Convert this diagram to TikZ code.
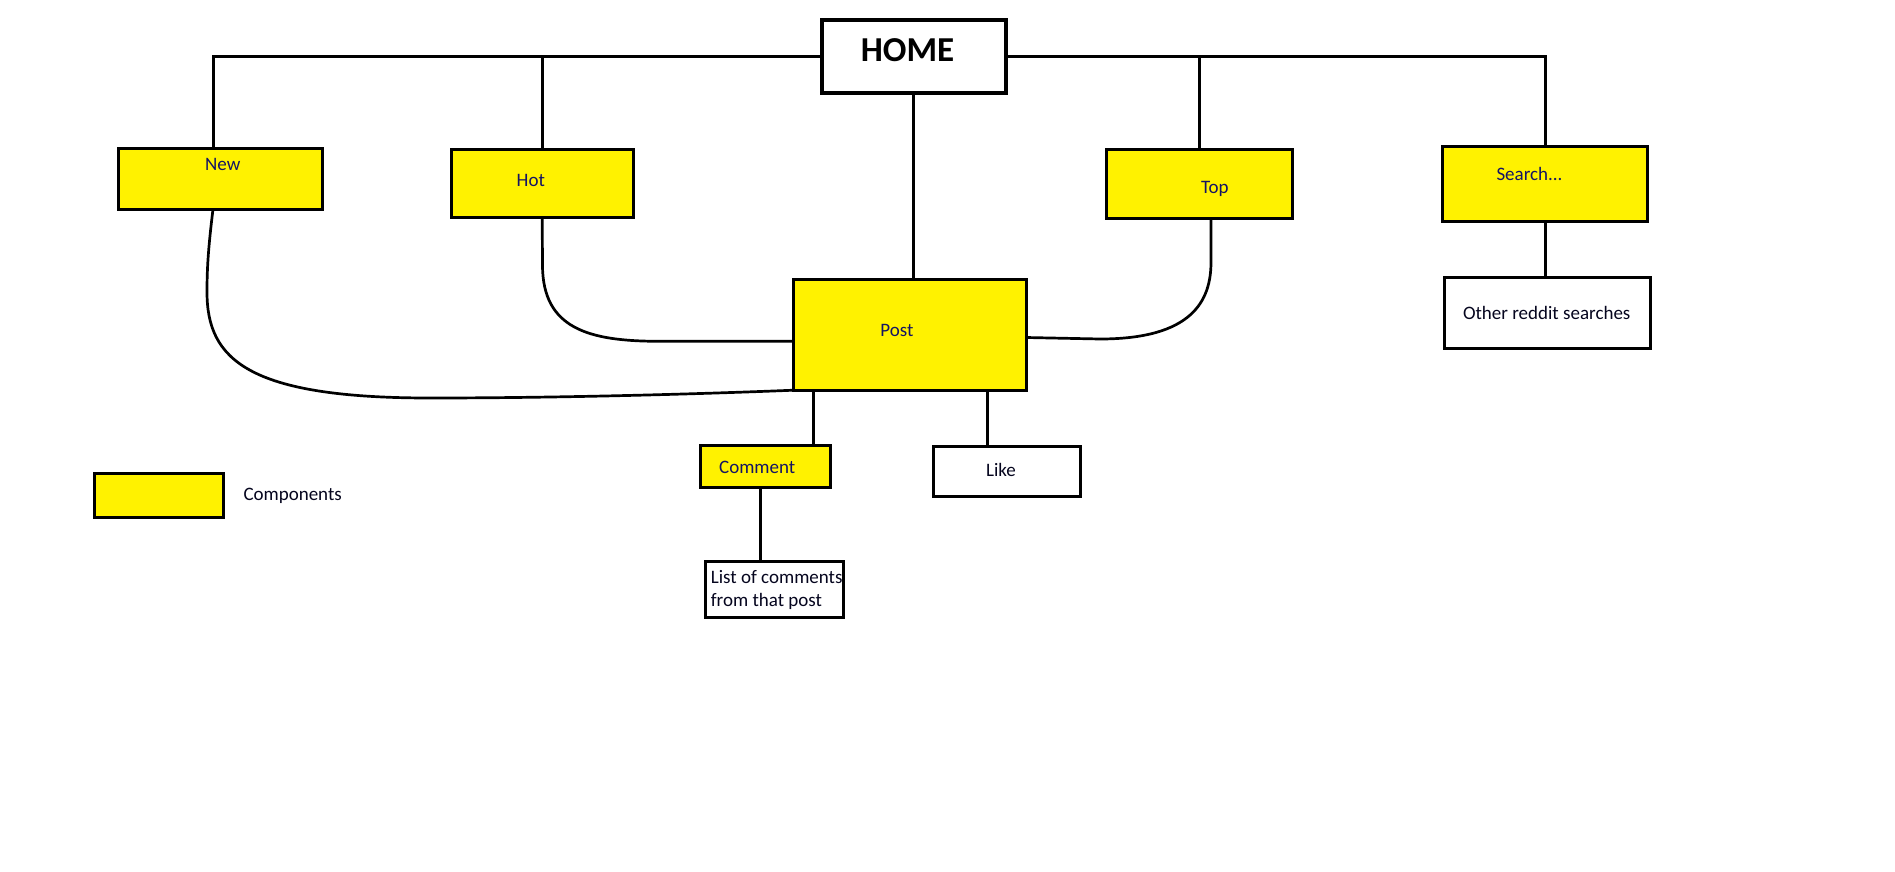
\documentclass[tikz,border=0pt]{standalone}
\usepackage{fontspec}
\setmainfont{Carlito}
\definecolor{boxyellow}{RGB}{255,242,0}
\definecolor{labelnavy}{RGB}{20,20,100}
\definecolor{labeldark}{RGB}{5,5,30}
\begin{document}
\begin{tikzpicture}[x=1pt,y=-1pt,
  box/.style={draw=black,line width=3pt,inner sep=0pt,outer sep=0pt},
  comp/.style={box,fill=boxyellow},
  plain/.style={box,fill=white},
  lbl/.style={inner sep=0pt,anchor=base,font=\fontsize{19}{22.7}\selectfont},
  comptext/.style={lbl,text=labelnavy},
  plaintext/.style={lbl,text=labeldark},
  link/.style={draw=black,line width=2.7pt}]
\useasboundingbox (0,0) rectangle (1895,872);
\fill[white] (0,0) rectangle (1895,872);

% root page
\node[box,line width=4.5pt,fill=white,minimum width=184pt,minimum height=72.8pt] (home) at (913.75,56.65) {};
\node[inner sep=0pt,anchor=base,font=\fontsize{35}{40}\selectfont\bfseries,text=black] (hometxt) at (907.5,61.7) {HOME};

% listing components
\node[comp,minimum width=204pt,minimum height=61pt] (new) at (220.5,178.7) {};
\node[comptext] (newtxt) at (222.7,171) {New};
\node[comp,minimum width=182.2pt,minimum height=67.7pt] (hot) at (542.2,183.35) {};
\node[comptext] (hottxt) at (530.8,186.7) {Hot};
\node[comp,minimum width=186.5pt,minimum height=69pt] (top) at (1199.6,184.3) {};
\node[comptext] (toptxt) at (1214.9,193.3) {Top};
\node[comp,minimum width=205.3pt,minimum height=75.3pt] (search) at (1545.2,184.2) {};
\node[comptext] (searchtxt) at (1529.5,180) {Search...};
\node[plain,minimum width=206pt,minimum height=71pt] (other) at (1547.8,313) {};
\node[plaintext] (othertxt) at (1546.7,319) {Other reddit searches};

% post and its parts
\node[comp,minimum width=232.5pt,minimum height=110.4pt] (post) at (909.75,335) {};
\node[comptext] (posttxt) at (897,336) {Post};
\node[comp,minimum width=130.3pt,minimum height=42pt] (comment) at (765.7,466.8) {};
\node[comptext] (commenttxt) at (757.2,473.3) {Comment};
\node[plain,minimum width=147.3pt,minimum height=50.3pt] (like) at (1006.9,471.7) {};
\node[plaintext] (liketxt) at (1001,476.7) {Like};
\node[plain,minimum width=137.7pt,minimum height=56.3pt] (list) at (774.7,589.7) {};
\node[plaintext,anchor=base west] (listtxta) at (710.7,583.3) {List of comments};
\node[plaintext,anchor=base west] (listtxtb) at (710.7,606) {from that post};

% legend
\node[comp,minimum width=128.7pt,minimum height=43.7pt] (legend) at (159.2,495.7) {};
\node[plaintext,anchor=base west] (legendtxt) at (243.3,500.7) {Components};

% tree from the root
\coordinate (lj) at (213.8,57.3);
\draw[link] (home.west) -| (lj |- new.north);
\draw[link] (hot.north) -- (hot.north |- home.west);
\draw[link] (home.east) -| (search.north);
\draw[link] (top.north) -- (top.north |- home.east);
\draw[link] (home.south) -- (home.south |- post.north);
\draw[link] (search.south) -- (search.south |- other.north);

% curved links into the post
\coordinate (nk0) at ([xshift=-7.5pt]new.south);
\coordinate (nk1) at (207,292);
\coordinate (nk2) at (430,398);
\draw[link] (nk0) .. controls (208,250) and (207,270) .. (nk1) .. controls (207,359) and (247,398) .. (nk2) .. controls (560,398) and (700,394) .. (post.south west);
\coordinate (hk1) at (542.5,265);
\coordinate (hk2) at (660,341.3);
\draw[link] (hot.south) -- (hk1) .. controls (542.5,329) and (589,341.3) .. (hk2) -- (post.west |- hk2);
\coordinate (tk0) at ([xshift=11.4pt]top.south);
\coordinate (tk1) at (1211,262);
\coordinate (tk2) at (1100,339);
\draw[link] (tk0) -- (tk1) .. controls (1211,301) and (1192,339) .. (tk2) -- ([yshift=-2.5pt]post.east);

% post parts
\coordinate (pc) at ([xshift=47.8pt]comment.north);
\draw[link] (pc) -- (pc |- post.south);
\coordinate (pl) at ([xshift=-19.6pt]like.north);
\draw[link] (pl) -- (pl |- post.south);
\coordinate (cl) at ([xshift=-5pt]comment.south);
\draw[link] (cl) -- (cl |- list.north);
\end{tikzpicture}
\end{document}
